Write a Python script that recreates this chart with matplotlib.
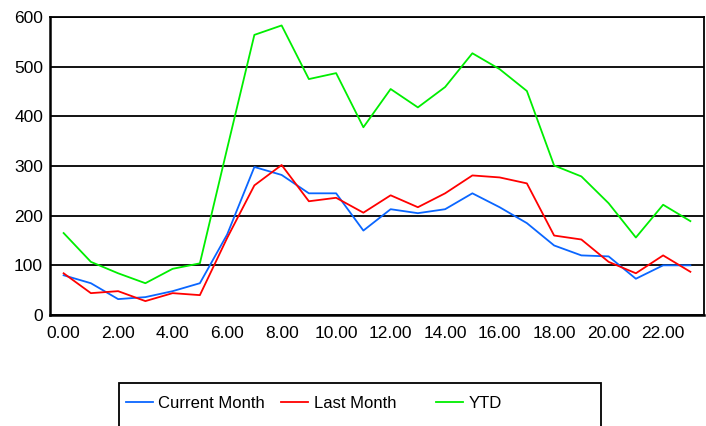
import matplotlib
matplotlib.use("Agg")
import matplotlib.pyplot as plt
from matplotlib.lines import Line2D
from matplotlib.patches import Rectangle

plt.rcParams["font.family"] = ["Liberation Sans", "DejaVu Sans"]

hours = list(range(24))
tick_hours = list(range(0, 24, 2))
tick_labels = ["%.2f" % h for h in tick_hours]

current_month = [80, 64, 32, 36, 48, 64, 162, 298, 282, 245, 245, 170,
                 213, 205, 213, 245, 217, 185, 140, 120, 118, 73, 100, 100]
last_month = [84, 44, 48, 28, 44, 40, 155, 261, 302, 229, 236, 206,
              241, 217, 245, 281, 277, 265, 160, 152, 107, 84, 120, 87]
ytd = [165, 107, 84, 64, 93, 104, 335, 564, 583, 475, 487, 378,
       455, 418, 459, 527, 495, 451, 301, 279, 225, 156, 222, 189]

series = [
    ("Current Month", current_month, "#0a66ff"),
    ("Last Month", last_month, "#ff0000"),
    ("YTD", ytd, "#00ee00"),
]

fig = plt.figure(figsize=(7.06, 4.26), dpi=100)
ax = fig.add_axes([50 / 706, 1 - 315 / 426, 654 / 706, 298 / 426])

for label, values, color in series:
    ax.plot(hours, values, color=color, lw=1.3, label=label)

ax.set_xlim(-0.5, 23.5)
ax.set_ylim(0, 600)
ax.set_yticks(range(0, 601, 100))
ax.set_xticks(tick_hours)
ax.set_xticklabels(tick_labels)
ax.tick_params(length=0, labelsize=12.5)
ax.tick_params(axis="y", pad=5)
ax.tick_params(axis="x", pad=8)
ax.yaxis.grid(True, color="black", lw=1.3)
ax.set_axisbelow(True)
for side in ["left", "bottom"]:
    ax.spines[side].set_linewidth(1.8)
for side in ["top", "right"]:
    ax.spines[side].set_linewidth(1.3)

# legend box, cut off by the bottom of the image
fig.patches.append(Rectangle((119 / 706, -0.1), 482 / 706, 0.1 + 43 / 426,
                             transform=fig.transFigure, fill=False,
                             edgecolor="black", lw=1.3))
legend_x = [126, 281, 436]
for (label, values, color), x in zip(series, legend_x):
    h = Line2D([], [], color=color, lw=1.3)
    fig.legend(handles=[h], labels=[label], loc="center left",
               bbox_to_anchor=(x / 706, 23 / 426), frameon=False,
               borderpad=0, borderaxespad=0, handlelength=1.6,
               handletextpad=0.35, fontsize=12)

fig.savefig("out.png", dpi=100)
